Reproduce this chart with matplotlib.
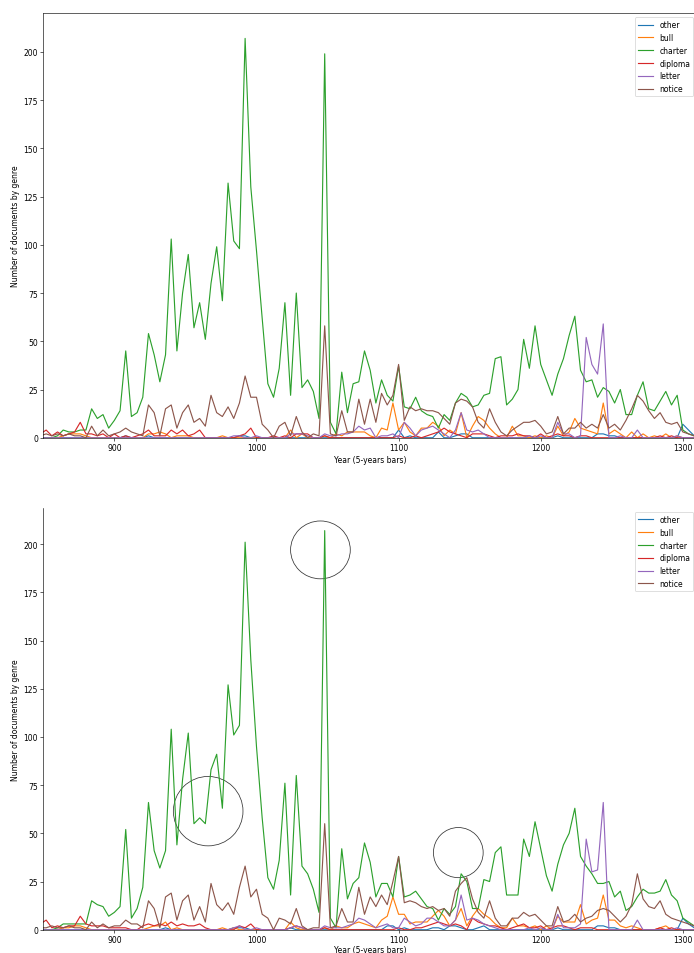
import numpy as np
import matplotlib
matplotlib.use("Agg")
import matplotlib.pyplot as plt
from matplotlib.patches import Ellipse

# bins of the year axis (one point every 4 years)
years = np.arange(848, 1312, 4)
genres = ["other", "bull", "charter", "diploma", "letter", "notice"]

# ---- upper chart ----
other_a = [0,0,0,0,0,0,0,0,0,0,
           0,0,0,0,0,1,0,0,0,1,
           0,0,0,0,0,0,0,0,0,0,
           0,0,0,0,0,1,1,0,0,0,
           0,0,0,0,0,0,0,0,0,0,
           0,0,0,0,0,0,0,0,0,0,
           0,0,0,4,0,1,0,0,0,0,
           3,0,0,1,2,2,0,0,0,0,
           0,0,0,0,0,0,0,0,0,0,
           0,1,0,0,0,0,0,0,2,2,
           1,1,0,0,0,0,0,0,0,0,
           0,0,0,7,4,1]
bull_a = [0,0,0,0,1,2,2,2,1,0,
          0,0,0,0,0,0,0,0,0,2,
          2,3,2,0,1,1,1,0,0,0,
          0,0,1,0,0,0,0,0,0,0,
          0,0,0,0,4,0,2,0,0,0,
          1,0,2,1,3,3,3,3,1,0,
          5,4,18,4,8,3,1,5,5,8,
          6,1,4,2,13,0,6,11,9,5,
          2,0,0,6,1,1,0,1,0,1,
          0,6,1,3,10,5,4,3,2,18,
          2,4,2,0,3,0,2,0,1,0,
          2,0,1,0,0,0]
charter_a = [0,0,0,1,4,3,3,4,4,15,
             10,12,5,9,14,45,11,13,21,54,
             43,29,43,103,45,75,95,57,70,51,
             80,99,71,132,102,98,207,130,97,62,
             28,21,36,70,22,75,26,30,24,10,
             199,8,2,34,13,28,29,45,35,18,
             30,22,19,37,16,15,21,14,12,11,
             5,12,9,18,23,21,16,17,22,23,
             41,42,17,20,25,51,36,58,38,30,
             22,33,41,53,63,35,29,30,21,26,
             24,18,25,12,12,22,29,15,14,19,
             24,17,22,4,2,1]
diploma_a = [2,4,1,3,1,2,3,8,2,2,
             1,2,0,2,0,1,0,1,2,4,
             1,1,1,4,2,4,1,2,4,0,
             0,0,0,0,0,1,2,5,0,0,
             0,1,0,1,0,2,2,2,0,0,
             1,0,0,0,0,0,0,0,0,0,
             0,0,0,1,0,0,1,0,1,2,
             3,5,3,2,1,0,2,2,2,1,
             0,1,1,1,2,1,1,0,2,0,
             1,2,1,1,0,1,1,0,0,0,
             0,0,0,0,0,0,0,0,0,1,
             0,1,0,0,0,0]
letter_a = [0,0,0,0,0,0,0,0,0,0,
            0,0,0,0,0,0,0,0,0,0,
            0,0,0,0,0,0,0,0,0,0,
            0,0,0,0,1,1,0,0,1,0,
            0,0,0,0,2,2,2,1,0,0,
            2,1,1,2,2,3,6,4,5,0,
            1,1,2,0,8,5,1,4,5,6,
            4,2,0,4,13,4,3,4,2,0,
            0,0,0,0,0,0,1,0,1,0,
            0,8,2,2,0,1,52,38,33,59,
            0,0,1,0,0,4,0,0,0,0,
            0,0,1,0,0,0]
notice_a = [1,2,1,2,1,2,1,1,0,6,
            1,4,1,2,3,5,3,2,1,17,
            13,1,15,17,5,13,17,8,10,6,
            22,13,11,16,10,18,32,21,21,7,
            4,0,6,8,1,11,3,0,2,1,
            58,2,1,14,3,3,20,7,20,8,
            23,17,22,38,9,16,14,15,14,14,
            13,10,7,18,20,19,16,8,5,15,
            8,3,1,4,6,8,8,9,6,2,
            3,11,2,5,5,8,5,7,5,12,
            5,7,4,9,15,22,19,14,10,13,
            8,7,8,3,2,1]

# ---- lower chart ----
other_b = [0,0,0,0,0,0,0,0,0,0,
           0,0,0,0,0,0,0,0,0,0,
           0,0,1,0,0,0,0,0,0,0,
           0,0,0,0,1,1,1,0,0,0,
           0,0,0,0,1,0,0,0,0,0,
           0,0,0,0,0,0,0,0,0,0,
           0,2,2,0,1,0,0,0,0,1,
           1,0,2,2,1,0,0,1,2,0,
           0,0,0,0,0,0,0,0,0,0,
           0,1,0,0,0,0,0,0,2,2,
           1,1,0,0,0,0,0,0,0,0,
           0,0,0,6,3,1]
bull_b = [0,0,0,0,1,1,2,2,1,0,
          0,0,0,0,0,0,0,0,0,1,
          2,2,4,0,1,0,0,0,0,0,
          0,0,1,0,1,0,0,0,0,0,
          0,0,0,0,4,1,0,0,0,0,
          1,0,2,1,1,3,4,3,2,1,
          5,7,17,8,8,3,4,4,4,7,
          10,7,2,5,11,2,7,11,8,6,
          3,1,1,6,2,2,1,2,0,2,
          0,7,4,4,4,13,3,5,6,18,
          5,5,2,1,2,1,0,0,0,1,
          2,0,0,0,0,0]
charter_b = [0,0,0,1,3,3,3,3,3,15,
             13,12,7,9,12,52,6,11,22,66,
             41,32,41,104,44,78,102,55,58,55,
             83,91,63,127,101,106,201,140,95,58,
             27,21,36,76,18,80,33,29,21,9,
             207,6,1,42,16,24,27,45,35,17,
             24,24,17,38,17,18,20,16,12,11,
             5,11,8,12,29,25,11,11,26,25,
             40,43,18,18,18,47,38,56,42,28,
             20,34,44,50,63,38,33,29,24,24,
             25,17,20,10,12,17,21,19,19,20,
             26,18,15,6,4,2]
diploma_b = [3,5,1,2,1,2,2,7,3,2,
             2,2,1,1,1,1,0,0,2,3,
             2,3,2,4,2,3,2,2,3,1,
             0,0,0,0,0,2,1,3,0,0,
             0,0,0,0,1,2,1,0,0,0,
             1,0,0,0,0,0,0,0,0,0,
             0,0,0,1,0,0,1,1,2,3,
             4,3,2,3,2,0,6,4,3,2,
             2,1,0,1,2,3,1,1,2,0,
             1,2,2,1,0,1,1,1,0,0,
             0,0,0,0,0,0,0,0,0,1,
             0,1,0,0,0,0]
letter_b = [0,0,0,0,0,0,0,0,0,0,
            0,0,0,0,0,0,0,0,0,0,
            0,0,0,0,0,0,0,0,0,0,
            0,0,0,0,1,2,0,0,1,0,
            0,0,0,0,1,2,1,0,0,0,
            2,1,1,1,2,3,6,5,3,1,
            2,3,1,1,6,4,2,3,6,6,
            4,2,2,5,18,5,6,5,3,2,
            1,0,0,0,0,0,1,0,1,0,
            0,8,1,1,1,3,47,30,31,66,
            0,0,0,0,0,5,0,0,0,0,
            0,0,1,0,0,0]
notice_b = [1,1,2,1,1,2,1,1,0,4,
            1,3,1,2,2,5,3,3,1,15,
            11,1,17,19,5,15,18,5,12,4,
            24,13,10,14,8,22,33,17,21,8,
            6,0,6,5,3,11,2,0,1,1,
            55,1,2,11,4,4,22,8,17,12,
            18,13,25,38,14,15,14,12,11,12,
            10,11,7,20,24,27,16,9,6,15,
            6,2,2,6,6,9,7,8,5,2,
            2,12,4,5,8,4,6,7,10,11,
            10,7,4,7,13,29,16,12,11,15,
            8,6,5,4,3,2]

# circled spots on the lower chart: (year, count, width in years, height in counts)
circles = [(1045, 197, 42, 30), (966, 61.5, 49, 36), (1142, 40, 35, 26)]

dpi = 55
fig = plt.figure(figsize=(694 / dpi, 954 / dpi), dpi=dpi)

ax1 = fig.add_axes([0.0624, 0.5401, 0.942, 0.4449])
ax2 = fig.add_axes([0.0624, 0.0244, 0.942, 0.4420])

data_a = [other_a, bull_a, charter_a, diploma_a, letter_a, notice_a]
data_b = [other_b, bull_b, charter_b, diploma_b, letter_b, notice_b]

for ax, data, ytop, lpad in [(ax1, data_a, 220, 4.0), (ax2, data_b, 218.7, 1.5)]:
    for g, vals in zip(genres, data):
        ax.plot(years, vals, label=g)
    ax.set_xlim(850, 1310)
    ax.set_ylim(0, ytop)
    ax.set_xticks([900, 1000, 1100, 1200, 1300])
    ax.set_yticks(np.arange(0, 201, 25))
    ax.set_xlabel("Year (5-years bars)", labelpad=lpad)
    ax.set_ylabel("Number of documents by genre")
    ax.legend(loc="upper right")

ax2.spines["top"].set_visible(False)
ax2.spines["right"].set_visible(False)

for cx, cy, w, h in circles:
    ax2.add_patch(Ellipse((cx, cy), w, h, fill=False, edgecolor="#333333", lw=1.0))

fig.savefig("out.png", dpi=dpi)
